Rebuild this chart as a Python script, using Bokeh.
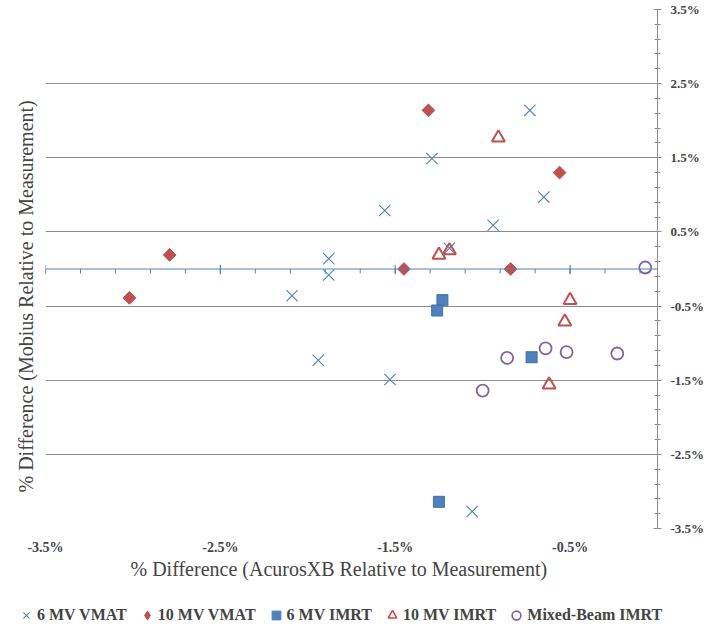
from bokeh.plotting import figure
from bokeh.layouts import column
from bokeh.models import (LinearAxis, FixedTicker, Range1d, Legend, LegendItem,
                          Title, CustomJSTickFormatter, Span)
from bokeh.embed import file_html
from bokeh.resources import INLINE

# ---- data (percent) ----
vmat6_x = [-2.09, -1.94, -1.88, -1.88, -1.56, -1.53, -1.29, -1.19, -0.94, -0.73, -0.65, -1.06]
vmat6_y = [-0.36, -1.23, 0.14, -0.08, 0.79, -1.49, 1.49, 0.28, 0.59, 2.14, 0.97, -3.27]
vmat10_x = [-3.02, -2.79, -1.45, -1.31, -0.84, -0.56]
vmat10_y = [-0.39, 0.19, 0.0, 2.14, 0.0, 1.30]
imrt6_x = [-1.23, -1.26, -0.72, -1.25]
imrt6_y = [-0.42, -0.56, -1.19, -3.14]
imrt10_x = [-0.91, -1.25, -1.19, -0.50, -0.53, -0.62]
imrt10_y = [1.77, 0.19, 0.25, -0.42, -0.71, -1.56]
mixed_x = [-0.07, -0.64, -0.52, -0.23, -0.86, -1.00]
mixed_y = [0.02, -1.07, -1.12, -1.14, -1.20, -1.64]

series_names = ["6 MV VMAT", "10 MV VMAT", "6 MV IMRT", "10 MV IMRT", "Mixed-Beam IMRT"]
x_major = [-3.5, -2.5, -1.5, -0.5]
x_minor = [round(-3.5 + 0.2 * k, 2) for k in range(18)]
y_major = [-3.5, -2.5, -1.5, -0.5, 0.5, 1.5, 2.5, 3.5]
y_minor = [round(-3.5 + 0.2 * k, 2) for k in range(36)]

BLUE = "#4F81BD"
RED = "#C0504D"
PURPLE = "#8064A2"
GRAY = "#8C8C8C"
FONT = "Liberation Serif"

p = figure(width=709, height=585, output_backend="svg", toolbar_location=None,
           x_range=Range1d(-3.5, 0.0), y_range=Range1d(-3.5, 3.5),
           x_axis_location=None, y_axis_location="right",
           min_border_top=9, min_border_left=45, min_border_right=52, min_border_bottom=57)
p.frame_align = False
p.outline_line_color = None
p.xgrid.visible = False
p.ygrid.ticker = FixedTicker(ticks=y_major)
p.ygrid.grid_line_color = GRAY
p.ygrid.grid_line_width = 1

fmt = CustomJSTickFormatter(code="return tick.toFixed(1) + '%';")

ya = p.yaxis[0]
ya.ticker = FixedTicker(ticks=y_major, minor_ticks=y_minor)
ya.formatter = fmt
ya.axis_line_color = GRAY
ya.major_tick_line_color = GRAY
ya.minor_tick_line_color = GRAY
ya.major_tick_in = 4
ya.major_tick_out = 4
ya.minor_tick_in = 3
ya.minor_tick_out = 3
ya.major_label_text_font = FONT
ya.major_label_text_font_style = "bold"
ya.major_label_text_font_size = "13px"
ya.major_label_standoff = 9

# horizontal axis line at y = 0 with its tick marks
p.add_layout(Span(location=0, dimension="width", line_color=BLUE, line_width=1.2))
p.segment(x0=x_major, x1=x_major, y0=[0.055] * len(x_major), y1=[-0.07] * len(x_major),
          line_color=BLUE, line_width=1.2)
p.segment(x0=x_minor, x1=x_minor, y0=[0.0] * len(x_minor), y1=[-0.06] * len(x_minor),
          line_color=BLUE, line_width=1)

# bottom tick labels
lab_axis = LinearAxis(ticker=FixedTicker(ticks=x_major), formatter=fmt,
                      axis_line_color=None, major_tick_line_color=None, minor_tick_line_color=None,
                      major_tick_out=0, major_tick_in=0,
                      major_label_text_font=FONT, major_label_text_font_style="bold",
                      major_label_text_font_size="14px", major_label_standoff=11)
p.add_layout(lab_axis, "below")

p.add_layout(Title(text="% Difference (AcurosXB Relative to Measurement)", align="left",
                   text_font=FONT, text_font_size="20px", text_font_style="normal",
                   standoff=-4, offset=85), "below")
p.add_layout(Title(text="% Difference (Mobius Relative to Measurement)", align="left",
                   text_font=FONT, text_font_size="20px", text_font_style="normal",
                   standoff=18, offset=36), "left")

p.scatter(vmat6_x, vmat6_y, marker="x", size=16, line_color=BLUE, line_width=1.1)
p.scatter(vmat10_x, vmat10_y, marker="square", angle=0.785398, size=9,
          fill_color=RED, line_color=RED)
p.scatter(imrt6_x, imrt6_y, marker="square", size=11, fill_color=BLUE, line_color="#3F6FAA")
p.scatter(imrt10_x, imrt10_y, marker="triangle", size=13, fill_color=None,
          line_color=RED, line_width=2)
p.scatter(mixed_x, mixed_y, marker="circle", size=12, fill_color=None,
          line_color=PURPLE, line_width=1.8)

# legend strip below the chart
lf = figure(width=709, height=40, output_backend="svg", toolbar_location=None,
            x_range=Range1d(0, 1), y_range=Range1d(0, 1),
            x_axis_location=None, y_axis_location=None, min_border=0)
lf.frame_align = False
lf.outline_line_color = None
lf.grid.visible = False
l1 = lf.scatter(vmat6_x, vmat6_y, marker="x", line_color=BLUE, line_width=1.1, visible=False)
l2 = lf.scatter(vmat10_x, vmat10_y, marker="diamond", fill_color=RED, line_color=RED, visible=False)
l3 = lf.scatter(imrt6_x, imrt6_y, marker="square", fill_color=BLUE, line_color=BLUE, visible=False)
l4 = lf.scatter(imrt10_x, imrt10_y, marker="triangle", fill_color=None, line_color=RED,
                line_width=1.6, visible=False)
l5 = lf.scatter(mixed_x, mixed_y, marker="circle", fill_color=None, line_color=PURPLE,
                line_width=1.6, visible=False)

legend = Legend(items=[LegendItem(label=n, renderers=[r]) for n, r in
                       zip(series_names, [l1, l2, l3, l4, l5])],
                orientation="horizontal", location=(15, -1),
                label_text_font=FONT, label_text_font_style="bold", label_text_font_size="16px",
                glyph_width=22, glyph_height=22, label_standoff=0, spacing=9,
                border_line_color=None, background_fill_alpha=0, padding=0, margin=0)
lf.add_layout(legend)

open("out.html", "w").write(file_html(column(p, lf, spacing=0), INLINE))
